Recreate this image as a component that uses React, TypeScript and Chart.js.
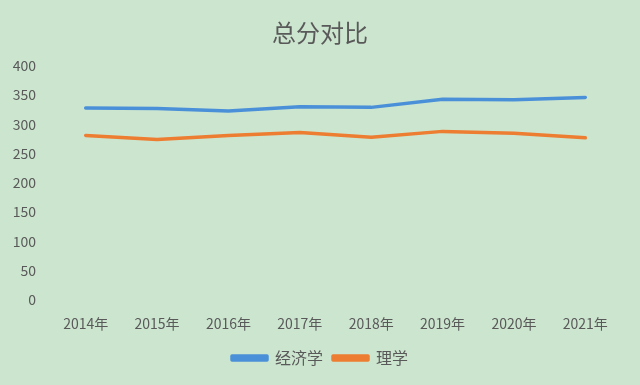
import React, { useEffect, useRef } from "react";
import { Chart, registerables } from "chart.js";

Chart.register(...registerables);

const categories = ["2014年", "2015年", "2016年", "2017年", "2018年", "2019年", "2020年", "2021年"];
const economics = [328, 327, 323, 330, 329, 343, 342, 346];
const science = [281, 274, 281, 286, 278, 288, 285, 277];
const seriesNames = ["经济学", "理学"];
const titleText = "总分对比";

const BG = "#cce5cf";
const TEXT = "#595959";
const BLUE = "#4a90d9";
const ORANGE = "#ed7d31";
const FONT = "'Noto Sans CJK SC', 'Noto Sans', sans-serif";

export default function App() {
  const ref = useRef<HTMLCanvasElement | null>(null);

  useEffect(() => {
    document.body.style.margin = "0";
    const canvas = ref.current;
    if (!canvas) return;
    const chart = new Chart(canvas, {
      type: "line",
      data: {
        labels: categories,
        datasets: [
          {
            label: seriesNames[0],
            data: economics,
            borderColor: BLUE,
            backgroundColor: BLUE,
            borderWidth: 3.5,
            pointRadius: 0,
            tension: 0,
            borderCapStyle: "round",
            borderJoinStyle: "round",
          },
          {
            label: seriesNames[1],
            data: science,
            borderColor: ORANGE,
            backgroundColor: ORANGE,
            borderWidth: 3.5,
            pointRadius: 0,
            tension: 0,
            borderCapStyle: "round",
            borderJoinStyle: "round",
          },
        ],
      },
      options: {
        responsive: false,
        animation: false,
        layout: { padding: { left: 0, right: 0, top: 0, bottom: 9 } },
        plugins: {
          title: {
            display: true,
            text: titleText,
            color: TEXT,
            font: { family: FONT, size: 24, weight: "normal" },
            padding: { top: 18, bottom: 19 },
          },
          legend: {
            position: "bottom",
            labels: {
              color: TEXT,
              font: { family: FONT, size: 16 },
              boxWidth: 35,
              boxHeight: 4,
              padding: 10,
            },
          },
          tooltip: { enabled: false },
        },
        scales: {
          x: {
            offset: true,
            grid: { display: false, drawTicks: false },
            border: { display: false },
            ticks: {
              color: TEXT,
              font: { family: FONT, size: 14 },
              padding: 15,
              maxRotation: 0,
              autoSkip: false,
            },
            afterFit: (s: any) => {
              s.height = 40;
            },
          },
          y: {
            min: 0,
            max: 400,
            grid: { display: false, drawTicks: false },
            border: { display: false },
            ticks: {
              stepSize: 50,
              color: TEXT,
              font: { family: FONT, size: 14 },
              padding: 14,
            },
            afterFit: (s: any) => {
              s.width = 50;
            },
          },
          yRight: {
            position: "right",
            display: true,
            min: 0,
            max: 400,
            grid: { display: false, drawTicks: false },
            border: { display: false },
            ticks: { display: false },
            afterFit: (s: any) => {
              s.width = 19;
            },
          },
        },
      },
    });
    return () => chart.destroy();
  }, []);

  return (
    <div style={{ width: 640, height: 385, background: BG }}>
      <canvas ref={ref} width={640} height={385} style={{ display: "block" }} />
    </div>
  );
}
